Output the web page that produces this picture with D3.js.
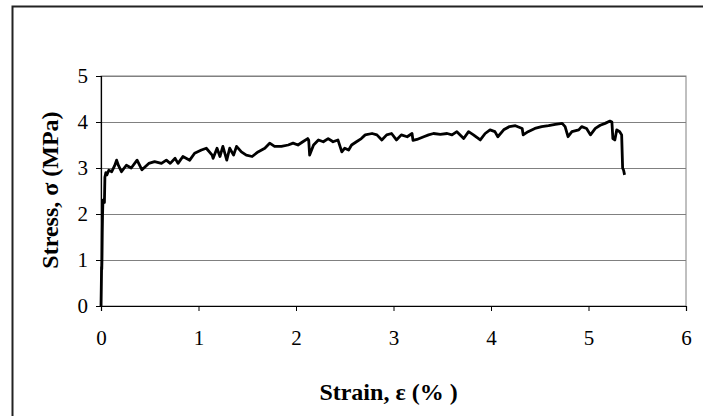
<!DOCTYPE html>
<html>
<head>
<meta charset="utf-8">
<script src="https://cdn.jsdelivr.net/npm/d3@7"></script>
<style>
  body { margin: 0; background: #fff; }
  svg { display: block; }
</style>
</head>
<body>
<div id="chart"></div>
<script>
// strain (%) and stress (MPa)
const strain = [
  0, 0.003, 0.006, 0.008, 0.01, 0.013, 0.016, 0.02, 0.025, 0.03,
  0.035, 0.04, 0.05, 0.06, 0.08, 0.11, 0.14, 0.16, 0.18, 0.21,
  0.26, 0.31, 0.37, 0.42, 0.49, 0.55, 0.62, 0.67, 0.71, 0.76,
  0.79, 0.84, 0.91, 0.96, 1.03, 1.08, 1.14, 1.15, 1.19, 1.22,
  1.25, 1.29, 1.32, 1.36, 1.39, 1.44, 1.49, 1.55, 1.61, 1.68,
  1.73, 1.78, 1.85, 1.92, 1.97, 2.02, 2.07, 2.12, 2.13, 2.14,
  2.18, 2.23, 2.28, 2.33, 2.38, 2.43, 2.47, 2.50, 2.54, 2.57,
  2.62, 2.67, 2.71, 2.78, 2.83, 2.88, 2.93, 2.98, 3.03, 3.08,
  3.14, 3.19, 3.20, 3.24, 3.31, 3.36, 3.41, 3.48, 3.55, 3.60,
  3.65, 3.72, 3.77, 3.82, 3.89, 3.94, 3.99, 4.04, 4.07, 4.13,
  4.19, 4.25, 4.32, 4.33, 4.38, 4.45, 4.52, 4.59, 4.66, 4.73,
  4.76, 4.79, 4.83, 4.90, 4.93, 4.98, 5.02, 5.07, 5.12, 5.17,
  5.22, 5.24, 5.25, 5.27, 5.29, 5.32, 5.34, 5.35, 5.36, 5.37
];
const stress = [
  0, 0.4, 0.85, 0.8, 1.0, 1.6, 2.0, 2.3, 2.25, 2.3,
  2.25, 2.8, 2.9, 2.85, 2.95, 2.92, 3.05, 3.17, 3.05, 2.92,
  3.06, 3.0, 3.17, 2.96, 3.1, 3.14, 3.1, 3.17, 3.1, 3.21,
  3.1, 3.25, 3.17, 3.32, 3.39, 3.43, 3.28, 3.21, 3.43, 3.25,
  3.47, 3.17, 3.43, 3.28, 3.47, 3.35, 3.28, 3.25, 3.35, 3.43,
  3.54, 3.47, 3.47, 3.5, 3.54, 3.5, 3.57, 3.64, 3.61, 3.28,
  3.5, 3.61, 3.57, 3.64, 3.57, 3.61, 3.35, 3.43, 3.39, 3.5,
  3.57, 3.64, 3.72, 3.75, 3.72, 3.61, 3.72, 3.75, 3.61, 3.72,
  3.68, 3.75, 3.6, 3.62, 3.68, 3.72, 3.75, 3.73, 3.75, 3.72,
  3.79, 3.64, 3.79, 3.72, 3.61, 3.75, 3.83, 3.79, 3.68, 3.83,
  3.9, 3.92, 3.86, 3.72, 3.79, 3.86, 3.9, 3.92, 3.95, 3.97,
  3.9, 3.68, 3.79, 3.83, 3.9, 3.86, 3.72, 3.86, 3.93, 3.97,
  4.02, 4.0, 3.64, 3.61, 3.83, 3.79, 3.72, 3.0, 2.95, 2.85
];
const xTicks = [0, 1, 2, 3, 4, 5, 6];
const yTicks = [0, 1, 2, 3, 4, 5];
const xTitle = "Strain, ε (% )";
const yTitle = "Stress,  σ (MPa)";

const W = 703, H = 416;
const serif = "'Liberation Serif', 'Times New Roman', serif";
const margin = { left: 101, top: 76, right: 17, bottom: 110 };
const width = W - margin.left - margin.right;
const height = H - margin.top - margin.bottom;

const svg = d3.select("#chart").append("svg")
  .attr("width", W)
  .attr("height", H);

// chart frame (runs off the right and bottom edge)
svg.append("rect")
  .attr("x", 12.5).attr("y", 6.5)
  .attr("width", 730).attr("height", 440)
  .attr("fill", "none")
  .attr("stroke", "#222")
  .attr("stroke-width", 2);

const g = svg.append("g")
  .attr("transform", "translate(" + margin.left + "," + margin.top + ")");

const x = d3.scaleLinear().domain([0, 6]).range([0, width]);
const y = d3.scaleLinear().domain([0, 5]).range([height, 0]);

// plot area border
g.append("rect")
  .attr("x", 0).attr("y", 0)
  .attr("width", width).attr("height", height)
  .attr("fill", "none")
  .attr("stroke", "#808080")
  .attr("stroke-width", 1);

// horizontal gridlines
g.append("g")
  .selectAll("line")
  .data(yTicks.filter(d => d > 0))
  .enter()
  .append("line")
  .attr("x1", 0).attr("x2", width)
  .attr("y1", d => Math.round(y(d)) + 0.5)
  .attr("y2", d => Math.round(y(d)) + 0.5)
  .attr("stroke", "#808080")
  .attr("stroke-width", 1);

// axes
const yAxis = g.append("g")
  .call(d3.axisLeft(y).tickValues(yTicks).tickSize(5).tickPadding(8).tickFormat(d3.format("d")));
const xAxis = g.append("g")
  .attr("transform", "translate(0," + height + ")")
  .call(d3.axisBottom(x).tickValues(xTicks).tickSize(5).tickPadding(19).tickFormat(d3.format("d")));

[yAxis, xAxis].forEach(a => {
  a.attr("font-family", serif).attr("font-size", 21);
  a.select(".domain").attr("stroke", "#000").attr("stroke-width", 1.2);
  a.selectAll(".tick line").attr("stroke", "#000");
  a.selectAll(".tick text")
    .attr("fill", "#000")
    .style("font-family", serif)
    .style("font-size", "21px");
});

// stress-strain curve
const line = d3.line()
  .x((d, i) => x(strain[i]))
  .y((d, i) => y(stress[i]));

g.append("path")
  .datum(stress)
  .attr("d", line)
  .attr("fill", "none")
  .attr("stroke", "#000")
  .attr("stroke-width", 2.8)
  .attr("stroke-linejoin", "round");

// axis titles
svg.append("text")
  .attr("x", margin.left + x(3) - 5)
  .attr("y", 400)
  .attr("text-anchor", "middle")
  .style("font-family", serif)
  .style("font-weight", "bold")
  .style("font-size", "24px")
  .text(xTitle);

svg.append("text")
  .attr("transform", "translate(58," + (margin.top + height / 2 - 1) + ") rotate(-90)")
  .attr("text-anchor", "middle")
  .style("font-family", serif)
  .style("font-weight", "bold")
  .style("font-size", "24px")
  .text(yTitle);
</script>
</body>
</html>
